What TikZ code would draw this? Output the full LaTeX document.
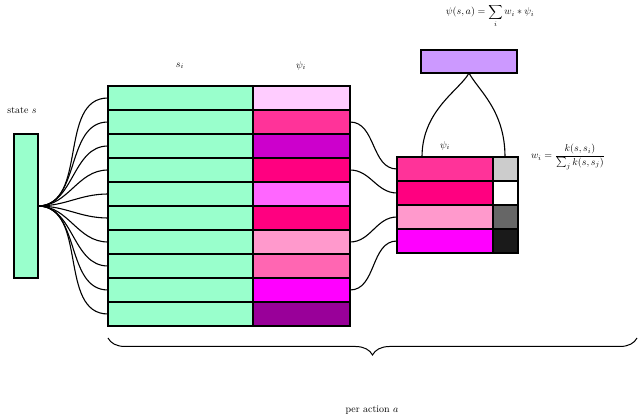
\documentclass[tikz,border=0pt]{standalone}
\usetikzlibrary{decorations.pathreplacing,patterns}
\definecolor{grn}{HTML}{99FFCC}
\definecolor{pur}{HTML}{CC99FF}
\definecolor{c1}{HTML}{FFCCFF}
\definecolor{c2}{HTML}{FF3399}
\definecolor{c3}{HTML}{CC00CC}
\definecolor{c4}{HTML}{FF0080}
\definecolor{c5}{HTML}{FF66FF}
\definecolor{c6}{HTML}{FF0080}
\definecolor{c7}{HTML}{FF99CC}
\definecolor{c8}{HTML}{FF66B2}
\definecolor{c9}{HTML}{FF00FF}
\definecolor{c10}{HTML}{990099}
\definecolor{g1}{HTML}{CCCCCC}
\definecolor{g2}{HTML}{FFFFFF}
\definecolor{g3}{HTML}{666666}
\definecolor{g4}{HTML}{1A1A1A}
\begin{document}
\begin{tikzpicture}[x=1pt,y=-1pt,
  cell/.style={draw=black,line width=1.5pt,rectangle,inner sep=0,outer sep=0,anchor=north west},
  wire/.style={line width=1.1pt}]
\useasboundingbox (0,0) rectangle (640,419);
% state
\node[cell,fill=grn,minimum width=24pt,minimum height=144pt] (st) at (14,134) {};
\node (stl) at (22,110) {state $s$};
% big table
\foreach \i/\c in {1/c1,2/c2,3/c3,4/c4,5/c5,6/c6,7/c7,8/c8,9/c9,10/c10}{
  \node[cell,fill=grn,minimum width=145pt,minimum height=24pt] (s\i) at (108,{86+24*(\i-1)}) {};
  \node[cell,fill=\c,minimum width=97pt,minimum height=24pt] (p\i) at (253,{86+24*(\i-1)}) {};
  \draw[wire] (st.east) to[out=0,in=180] (s\i.west);
}
\node (sil) at (180,66) {$s_i$};
\node (pil) at (301,66) {$\psi_i$};
% small table
\foreach \i/\c/\g in {1/c2/g1,2/c4/g2,3/c7/g3,4/c9/g4}{
  \node[cell,fill=\c,minimum width=96pt,minimum height=24pt] (q\i) at (397,{157+24*(\i-1)}) {};
  \node[cell,fill=\g,minimum width=25pt,minimum height=24pt] (w\i) at (493,{157+24*(\i-1)}) {};
}
\draw[wire] (p2.east) to[out=0,in=180] (q1.west);
\draw[wire] (p4.east) to[out=0,in=180] (q2.west);
\draw[wire] (p7.east) to[out=0,in=180] (q3.west);
\draw[wire] (p9.east) to[out=0,in=180] (q4.west);
% purple
\node[cell,fill=pur,minimum width=96pt,minimum height=23pt] (top) at (421,50) {};
\coordinate (ta) at (422,157);
\coordinate (tb) at (505,157);
\draw[wire] (ta) .. controls (422,110) and (460,90) .. (top.south);
\draw[wire] (tb) .. controls (505,110) and (478,90) .. (top.south);
\node (qil) at (445,146) {$\psi_i$};
\node (wl) at (568,157) {$w_i=\displaystyle\frac{k(s,s_i)}{\sum_j k(s,s_j)}$};
\node (fl) at (490,16) {$\displaystyle\psi(s,a)=\sum_i w_i*\psi_i$};
% brace
\coordinate (b1) at (108,338);
\coordinate (b2) at (637,338);
\draw[line width=1pt,decorate,decoration={brace,mirror,amplitude=17pt}] (b1) -- (b2);
\node (pa) at (372,410) {per action $a$};
\end{tikzpicture}
\end{document}
